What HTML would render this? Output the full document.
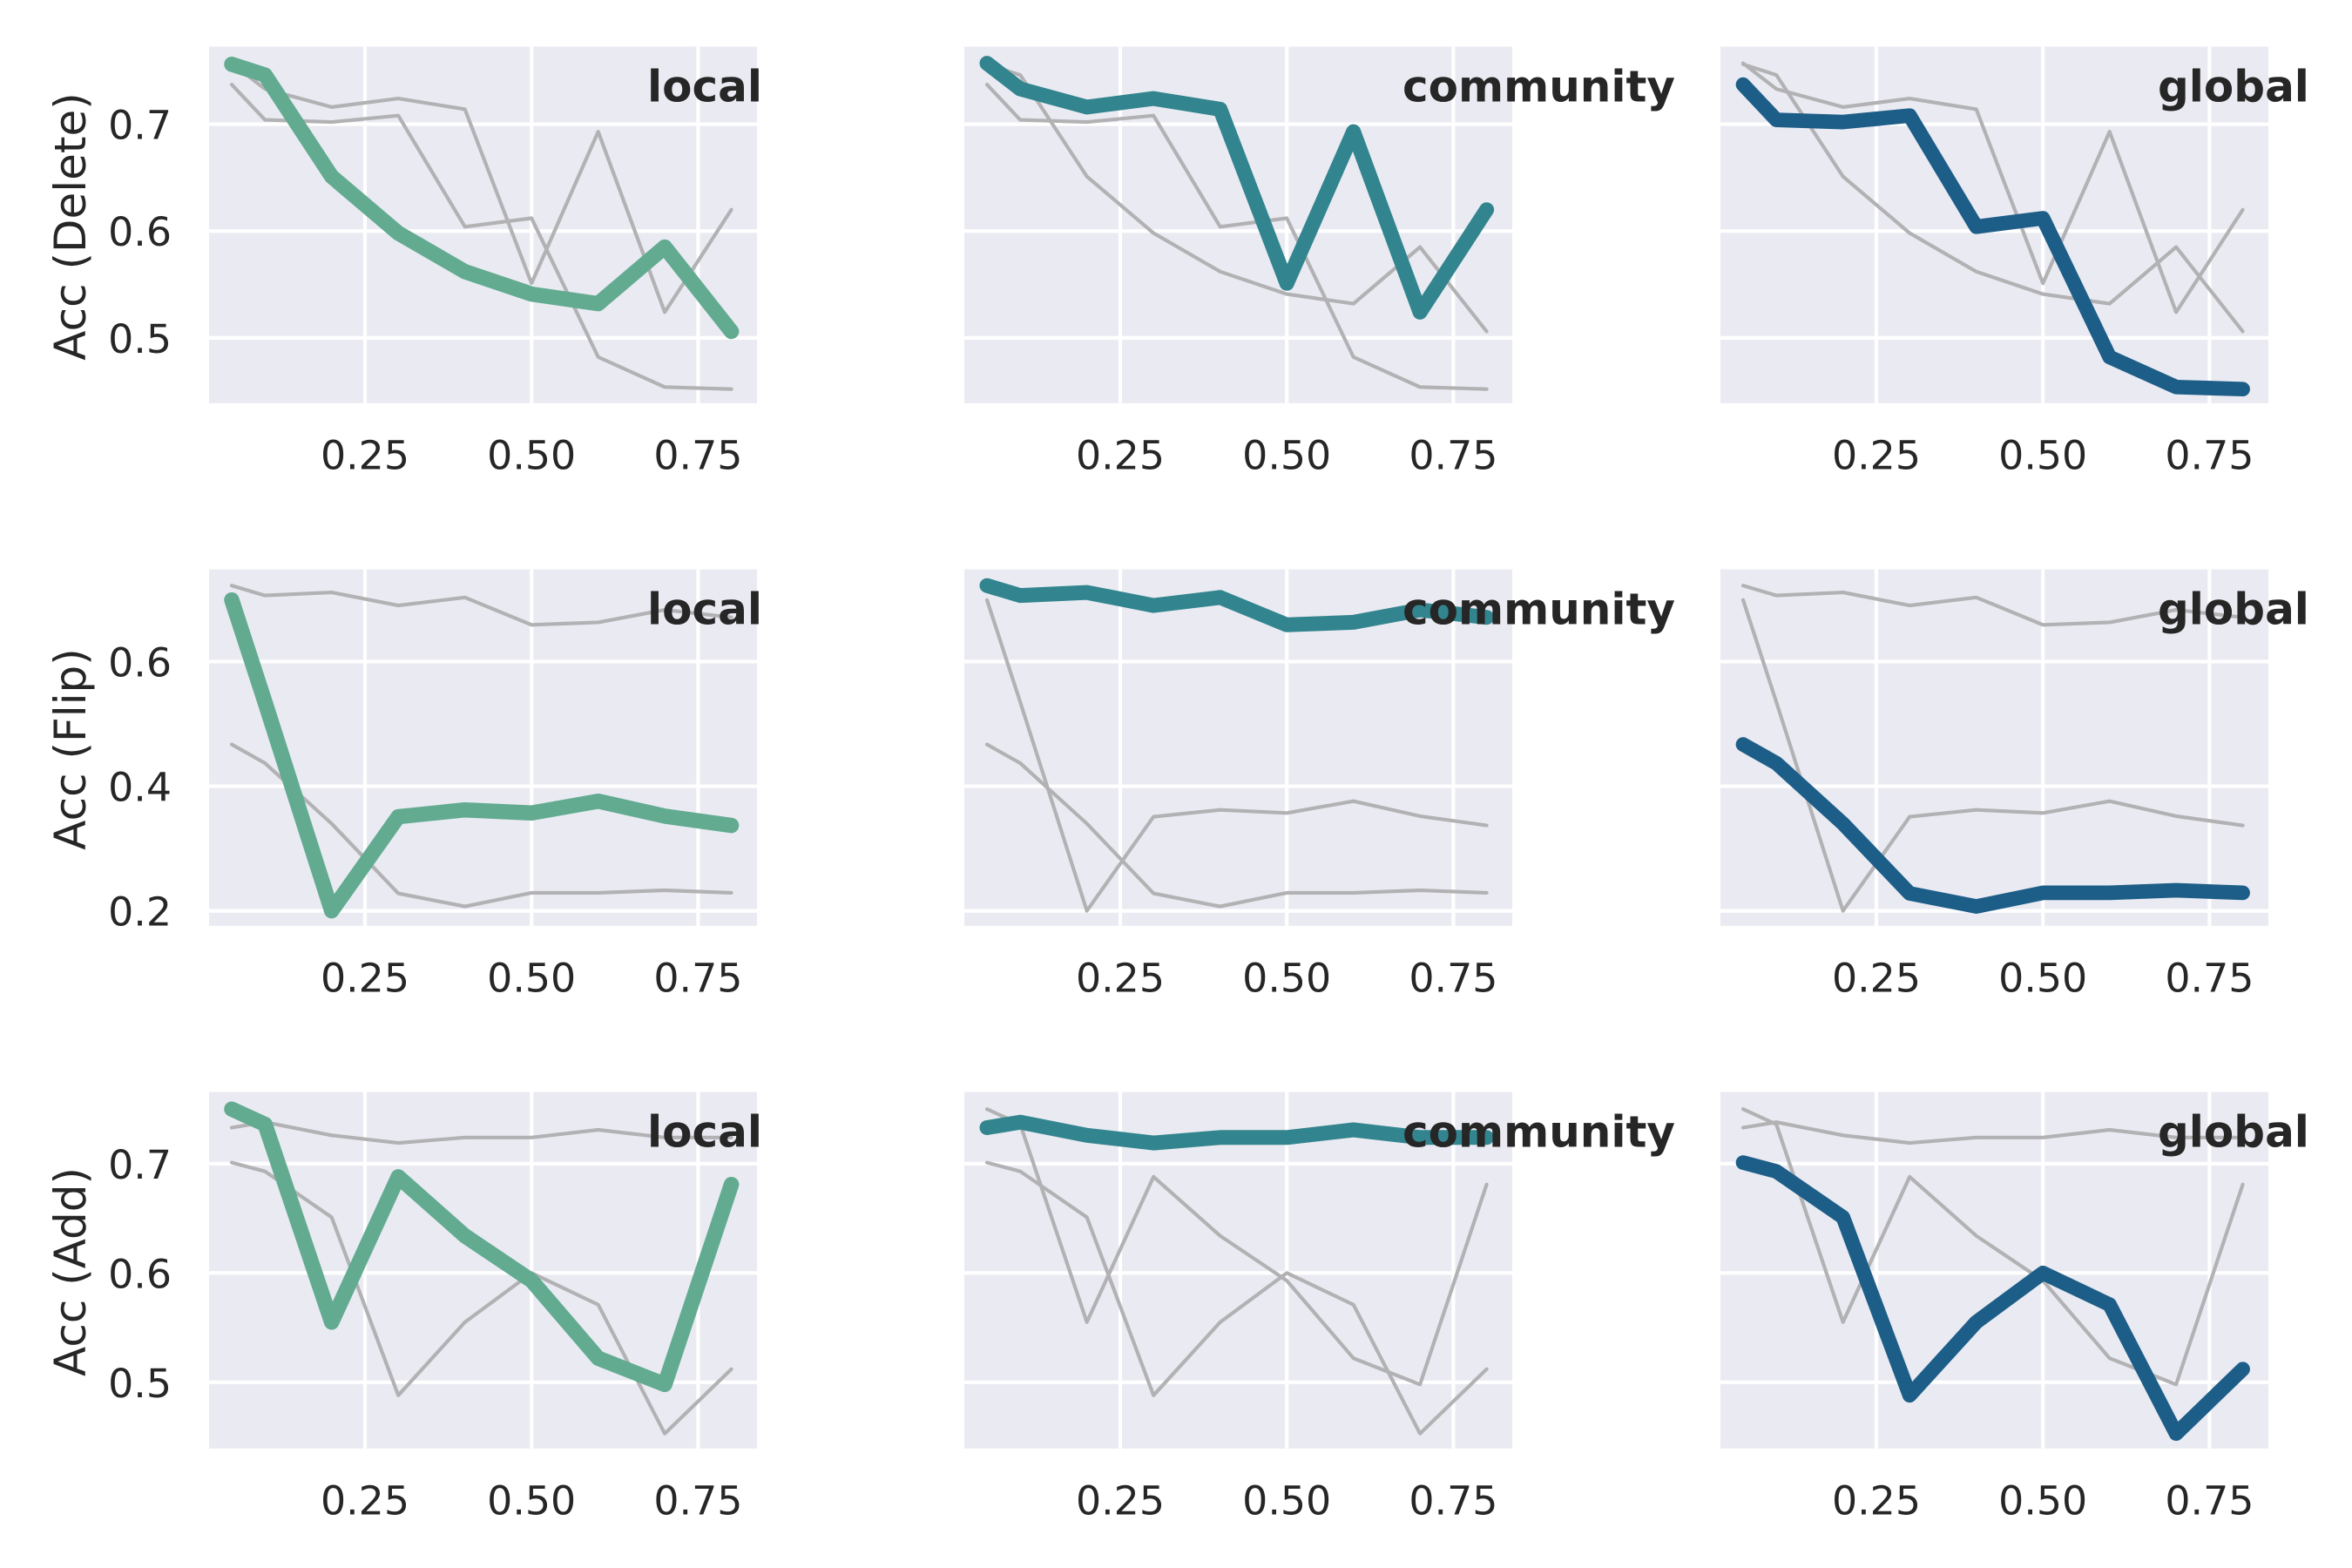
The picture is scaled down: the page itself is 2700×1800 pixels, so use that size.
<!DOCTYPE html>
<html lang="en">
<head>
<meta charset="utf-8">
<title>Accuracy by attack type and scope</title>
<style>
html,body{margin:0;padding:0;background:#fff;width:2700px;height:1800px;overflow:hidden}
svg{display:block}
text{font-family:"DejaVu Sans","Liberation Sans",sans-serif;fill:#262626}
.tick{font-size:45.83px}
.ylab{font-size:50px;text-anchor:middle}
.tag{font-size:50px;font-weight:bold}
</style>
</head>
<body>
<svg id="chart" xmlns="http://www.w3.org/2000/svg" width="2700" height="1800" viewBox="0 0 2700 1800">
  <g id="plots"></g>
  <g>
    <text class="ylab" transform="translate(98,260) rotate(-90)">Acc (Delete)</text>
    <text class="ylab" transform="translate(98,860) rotate(-90)">Acc (Flip)</text>
    <text class="ylab" transform="translate(98,1460) rotate(-90)">Acc (Add)</text>
  </g>
  <g>
    <text class="tag" x="743" y="116.5">local</text>
    <text class="tag" x="1610" y="116.5">community</text>
    <text class="tag" x="2477" y="116.5">global</text>
    <text class="tag" x="743" y="716.5">local</text>
    <text class="tag" x="1610" y="716.5">community</text>
    <text class="tag" x="2477" y="716.5">global</text>
    <text class="tag" x="743" y="1316.5">local</text>
    <text class="tag" x="1610" y="1316.5">community</text>
    <text class="tag" x="2477" y="1316.5">global</text>
  </g>
</svg>
<script>
const fractions = [0.05, 0.1, 0.2, 0.3, 0.4, 0.5, 0.6, 0.7, 0.8];
const xTickValues = [0.25, 0.5, 0.75];
const xTickLabels = ['0.25', '0.50', '0.75'];

const deleteLocal = [0.756, 0.746, 0.651, 0.598, 0.562, 0.541, 0.532, 0.585, 0.506];
const deleteCommunity = [0.757, 0.733, 0.716, 0.724, 0.714, 0.551, 0.693, 0.524, 0.620];
const deleteGlobal = [0.737, 0.704, 0.702, 0.708, 0.604, 0.612, 0.482, 0.454, 0.452];

const flipLocal = [0.699, 0.535, 0.200, 0.351, 0.362, 0.357, 0.376, 0.352, 0.337];
const flipCommunity = [0.722, 0.706, 0.711, 0.690, 0.703, 0.659, 0.663, 0.683, 0.671];
const flipGlobal = [0.467, 0.437, 0.340, 0.228, 0.207, 0.229, 0.229, 0.233, 0.229];

const addLocal = [0.750, 0.736, 0.555, 0.688, 0.634, 0.593, 0.522, 0.498, 0.681];
const addCommunity = [0.733, 0.738, 0.726, 0.719, 0.724, 0.724, 0.731, 0.724, 0.724];
const addGlobal = [0.701, 0.693, 0.651, 0.488, 0.555, 0.600, 0.571, 0.453, 0.512];

const deleteTicks = [0.5, 0.6, 0.7];
const flipTicks = [0.2, 0.4, 0.6];
const addTicks = [0.5, 0.6, 0.7];
const deleteTickLabels = ['0.5', '0.6', '0.7'];
const flipTickLabels = ['0.2', '0.4', '0.6'];
const addTickLabels = ['0.5', '0.6', '0.7'];

const xDomain = [0.016, 0.8384];
const deleteDomain = [0.4389, 0.7725];
const flipDomain = [0.176, 0.748];
const addDomain = [0.4394, 0.7656];

const scopes = ['local', 'community', 'global'];
const attacks = ['delete', 'flip', 'add'];
const seriesColors = ['#62ab91', '#32858e', '#1d5e88'];
const seriesWidths = [17.5, 17, 16.7];

const rows = [
  {series: [deleteLocal, deleteCommunity, deleteGlobal], ticks: deleteTicks, labels: deleteTickLabels, domain: deleteDomain},
  {series: [flipLocal, flipCommunity, flipGlobal], ticks: flipTicks, labels: flipTickLabels, domain: flipDomain},
  {series: [addLocal, addCommunity, addGlobal], ticks: addTicks, labels: addTickLabels, domain: addDomain}
];

const NS = 'http://www.w3.org/2000/svg';
const plotsLayer = document.getElementById('plots');
const panelWidth = 629;
const panelHeight = 409.2;
const panelLefts = [240, 1107, 1975];
const panelTops = [53.6, 653.6, 1253.6];

function make(tag, attrs, parent) {
  const el = document.createElementNS(NS, tag);
  for (const k in attrs) el.setAttribute(k, attrs[k]);
  parent.appendChild(el);
  return el;
}
function xScale(v, left) {
  return left + (v - xDomain[0]) / (xDomain[1] - xDomain[0]) * panelWidth;
}
function yScale(v, top, domain) {
  return top + panelHeight - (v - domain[0]) / (domain[1] - domain[0]) * panelHeight;
}
function linePoints(values, left, top, domain) {
  return values.map((v, i) => xScale(fractions[i], left).toFixed(1) + ',' + yScale(v, top, domain).toFixed(1)).join(' ');
}

rows.forEach((row, r) => {
  const top = panelTops[r];
  panelLefts.forEach((left, c) => {
    const panel = make('g', {}, plotsLayer);
    
    

    const bg = make('rect', {x: left, y: top, width: panelWidth, height: panelHeight, fill: '#eaeaf2'}, panel);
    
    

    xTickValues.forEach((t, i) => {
      const x = xScale(t, left);
      const grid = make('line', {x1: x, x2: x, y1: top, y2: top + panelHeight, stroke: '#fff', 'stroke-width': 4.17}, panel);
      
      
      const label = make('text', {x: x, y: top + 484.9, class: 'tick', 'text-anchor': 'middle'}, panel);
      
      
      label.textContent = xTickLabels[i];
    });

    row.ticks.forEach((t, i) => {
      const y = yScale(t, top, row.domain);
      const grid = make('line', {x1: left, x2: left + panelWidth, y1: y, y2: y, stroke: '#fff', 'stroke-width': 4.17}, panel);
      
      
      if (c === 0) {
        const label = make('text', {x: 197, y: y + 17, class: 'tick', 'text-anchor': 'end'}, panel);
        
        
        label.textContent = row.labels[i];
      }
    });

    row.series.forEach((values, s) => {
      if (s === c) return;
      const ghost = make('polyline', {points: linePoints(values, left, top, row.domain), fill: 'none', stroke: '#b2b2b4', 'stroke-width': 4.17, 'stroke-linejoin': 'round', 'stroke-linecap': 'round'}, panel);
      
      
    });

    const main = make('polyline', {points: linePoints(row.series[c], left, top, row.domain), fill: 'none', stroke: seriesColors[c], 'stroke-width': seriesWidths[c], 'stroke-linejoin': 'round', 'stroke-linecap': 'round'}, panel);
    
    
  });
});
</script>
</body>
</html>
